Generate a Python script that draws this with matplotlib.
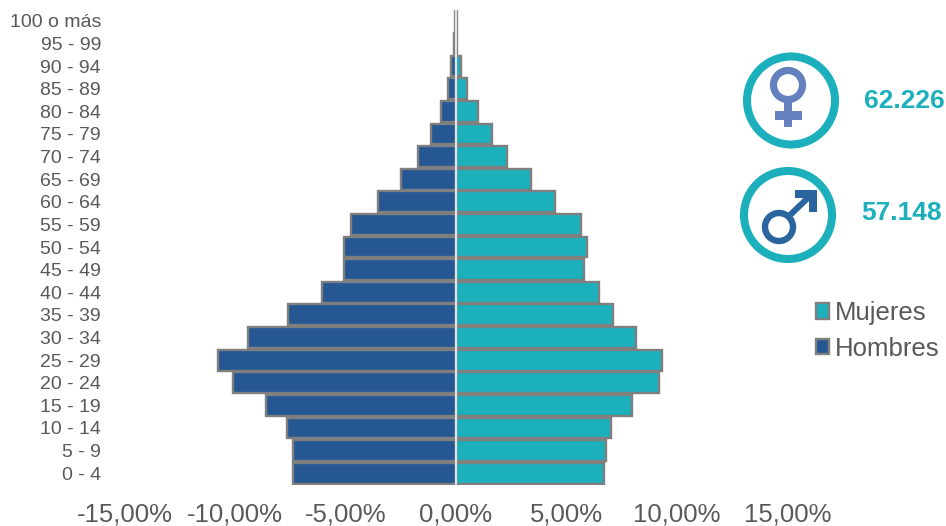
import matplotlib
matplotlib.use("Agg")
import matplotlib.pyplot as plt
from matplotlib.patches import Circle, Polygon, Rectangle, Patch
from matplotlib.lines import Line2D

plt.rcParams['font.family'] = ['Liberation Sans', 'DejaVu Sans']

age_groups = ["0 - 4", "5 - 9", "10 - 14", "15 - 19", "20 - 24", "25 - 29", "30 - 34",
              "35 - 39", "40 - 44", "45 - 49", "50 - 54", "55 - 59", "60 - 64", "65 - 69",
              "70 - 74", "75 - 79", "80 - 84", "85 - 89", "90 - 94", "95 - 99", "100 o más"]
hombres = [-7.38, -7.36, -7.66, -8.60, -10.08, -10.78, -9.43, -7.58, -6.08, -5.05, -5.08,
           -4.73, -3.55, -2.48, -1.74, -1.11, -0.66, -0.34, -0.21, -0.09, -0.03]
mujeres = [6.70, 6.80, 7.03, 7.97, 9.17, 9.30, 8.16, 7.12, 6.45, 5.80, 5.95,
           5.64, 4.50, 3.41, 2.33, 1.61, 0.98, 0.48, 0.21, 0.05, 0.03]
x_ticks = [-15, -10, -5, 0, 5, 10, 15]
x_labels = ["-15,00%", "-10,00%", "-5,00%", "0,00%", "5,00%", "10,00%", "15,00%"]
total_mujeres = "62.226"
total_hombres = "57.148"

TEAL = "#1BB0BC"
NAVY = "#255892"
EDGE = "#7F7F7F"
TEXT = "#595959"
W, H = 946, 526

fig = plt.figure(figsize=(W / 100, H / 100), dpi=100, facecolor="white")
ax = fig.add_axes([124.5 / W, 1 - 484.5 / H, 663 / W, 475 / H])
pos = list(range(len(age_groups)))
ax.barh(pos, mujeres, height=0.92, color=TEAL, edgecolor=EDGE, linewidth=1.7, label="Mujeres")
ax.barh(pos, hombres, height=0.92, color=NAVY, edgecolor=EDGE, linewidth=1.7, label="Hombres")
ax.axvline(0, color="#DDE3E6", lw=1.6, zorder=5)
ax.set_xlim(-15, 15)
ax.set_ylim(-0.5, 20.5)
ax.set_yticks(pos, age_groups, fontsize=14, color=TEXT)
ax.set_xticks(x_ticks, x_labels, fontsize=18.5, color=TEXT)
ax.tick_params(axis='y', length=0, pad=17)
ax.tick_params(axis='x', length=0, pad=13)
for s in ax.spines.values():
    s.set_visible(False)

handles = [Patch(facecolor=TEAL, edgecolor=EDGE, linewidth=1.7, label="Mujeres"),
           Patch(facecolor=NAVY, edgecolor=EDGE, linewidth=1.7, label="Hombres")]
fig.legend(handles=handles, loc="upper left", bbox_to_anchor=(816 / W, 1 - 301 / H),
           frameon=False, fontsize=18.5, labelcolor=TEXT, handlelength=0.5, handleheight=0.55,
           handletextpad=0.22, labelspacing=0.46, borderpad=0, borderaxespad=0)

# overlay in pixel coordinates for the gender badges
ov = fig.add_axes([0, 0, 1, 1], facecolor="none")
ov.set_xlim(0, W)
ov.set_ylim(H, 0)
ov.axis("off")

FEM = "#6480BE"
MAL = "#2A659F"
ov.add_patch(Circle((791, 100.5), 44, fill=False, ec=TEAL, lw=5.8))
ov.add_patch(Circle((788, 215), 44, fill=False, ec=TEAL, lw=5.8))

# female sign
ov.add_patch(Circle((788, 85), 14.5, fill=False, ec=FEM, lw=5.2))
ov.add_patch(Rectangle((784, 100), 8, 27, fc=FEM, ec="none"))
ov.add_patch(Rectangle((775, 110.5), 27, 9, fc=FEM, ec="none"))

# male sign
ov.add_patch(Circle((779, 227), 14, fill=False, ec=MAL, lw=4.6))
ov.add_artist(Line2D([788.5, 811], [216.5, 195], color=MAL, lw=4.4))
ov.add_patch(Polygon([(795, 190), (817, 190), (817, 212), (809, 212), (809, 198), (795, 198)],
                     closed=True, fc=MAL, ec="none"))

ov.text(864, 101, total_mujeres, color=TEAL, fontsize=19, fontweight="bold", ha="left", va="center")
ov.text(861, 212.5, total_hombres, color=TEAL, fontsize=19, fontweight="bold", ha="left", va="center")

fig.savefig("out.png", dpi=100)
